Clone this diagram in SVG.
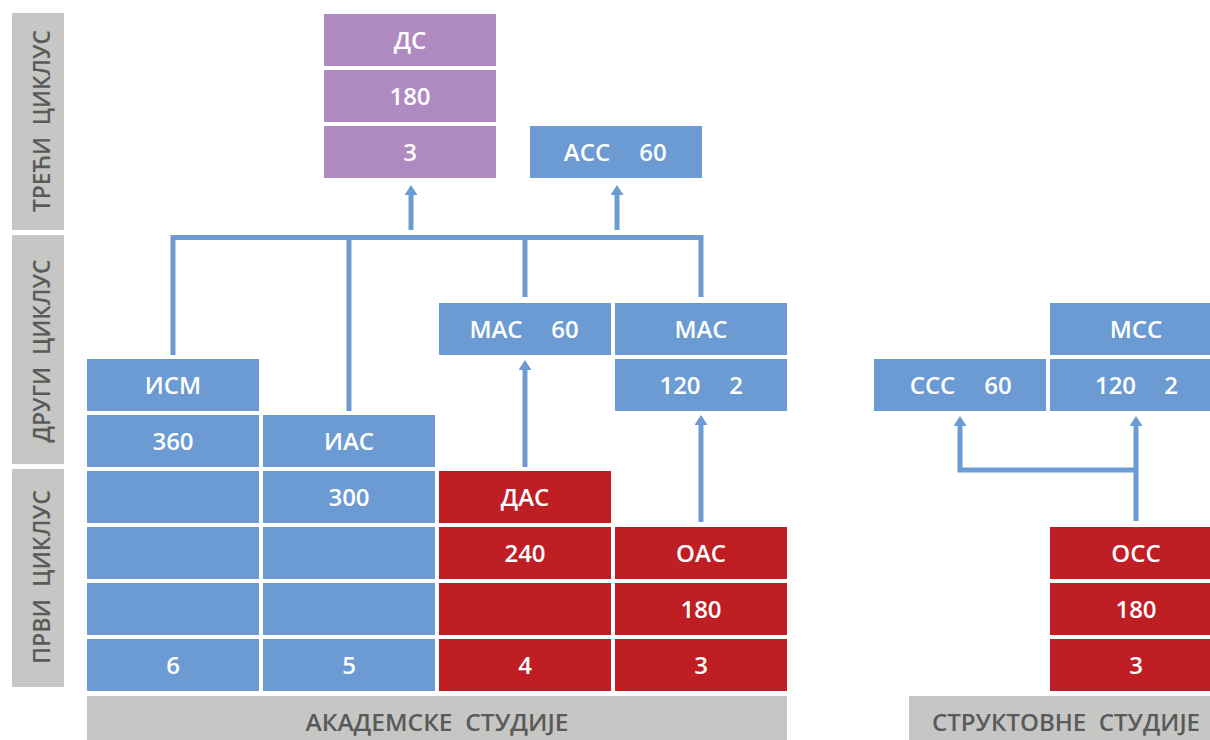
<svg xmlns="http://www.w3.org/2000/svg" width="1210" height="740" viewBox="0 0 1210 740">
<style>
.b{fill:#6b9bd2}
.r{fill:#be1e24}
.p{fill:#af8ac0}
.g{fill:#c6c6c5}
.t{font-family:"Open Sans","Noto Sans","DejaVu Sans",sans-serif;font-size:24px;font-weight:600;fill:#ffffff;text-anchor:middle}
.lbl{font-family:"Open Sans","Noto Sans","DejaVu Sans",sans-serif;font-size:24px;font-weight:600;fill:#5a5a5a;text-anchor:middle}
.c{fill:none;stroke:#6b9bd2;stroke-width:5}
</style>
<defs>
<marker id="ah" markerUnits="userSpaceOnUse" markerWidth="10" markerHeight="13" viewBox="0 0 10 13" refX="0" refY="6.5" orient="auto">
<path d="M0,0 L10,6.5 L0,13 z" fill="#6b9bd2"/>
</marker>
</defs>
<rect width="1210" height="740" fill="#ffffff"/>

<g id="cycle3"><rect class="g" x="12" y="13" width="52" height="217"/><text class="lbl" transform="translate(50,121) rotate(-90)" textLength="182" lengthAdjust="spacingAndGlyphs" xml:space="preserve">ТРЕЋИ  ЦИКЛУС</text></g>
<g id="cycle2"><rect class="g" x="12" y="235" width="52" height="229"/><text class="lbl" transform="translate(50,351) rotate(-90)" textLength="183" lengthAdjust="spacingAndGlyphs" xml:space="preserve">ДРУГИ  ЦИКЛУС</text></g>
<g id="cycle1"><rect class="g" x="12" y="469" width="52" height="218"/><text class="lbl" transform="translate(50,577) rotate(-90)" textLength="174" lengthAdjust="spacingAndGlyphs" xml:space="preserve">ПРВИ  ЦИКЛУС</text></g>

<g id="academic"><rect class="g" x="87" y="696" width="700" height="50"/><text class="lbl" x="437" y="731" textLength="263" lengthAdjust="spacingAndGlyphs" xml:space="preserve">АКАДЕМСКЕ  СТУДИЈЕ</text></g>
<g id="structural"><rect class="g" x="909" y="696" width="301" height="50"/><text class="lbl" x="1066" y="731" textLength="268" lengthAdjust="spacingAndGlyphs" xml:space="preserve">СТРУКТОВНЕ  СТУДИЈЕ</text></g>

<g id="ds">
<rect class="p" x="324" y="14" width="172" height="52"/><text class="t" x="410" y="48.5">ДС</text>
<rect class="p" x="324" y="70" width="172" height="52"/><text class="t" x="410" y="104.5">180</text>
<rect class="p" x="324" y="126" width="172" height="52"/><text class="t" x="410" y="160.5">3</text>
</g>
<g id="acc"><rect class="b" x="530" y="126" width="172" height="52"/><text class="t" x="587" y="160.5">АСС</text><text class="t" x="653" y="160.5">60</text></g>

<g id="ism">
<rect class="b" x="87" y="359" width="172" height="52"/><text class="t" x="173" y="393.5">ИСМ</text>
<rect class="b" x="87" y="415" width="172" height="52"/><text class="t" x="173" y="449.5">360</text>
<rect class="b" x="87" y="471" width="172" height="52"/>
<rect class="b" x="87" y="527" width="172" height="52"/>
<rect class="b" x="87" y="583" width="172" height="52"/>
<rect class="b" x="87" y="639" width="172" height="52"/><text class="t" x="173" y="673.5">6</text>
</g>
<g id="ias">
<rect class="b" x="263" y="415" width="172" height="52"/><text class="t" x="349" y="449.5">ИАС</text>
<rect class="b" x="263" y="471" width="172" height="52"/><text class="t" x="349" y="505.5">300</text>
<rect class="b" x="263" y="527" width="172" height="52"/>
<rect class="b" x="263" y="583" width="172" height="52"/>
<rect class="b" x="263" y="639" width="172" height="52"/><text class="t" x="349" y="673.5">5</text>
</g>
<g id="das">
<rect class="r" x="439" y="471" width="172" height="52"/><text class="t" x="525" y="505.5">ДАС</text>
<rect class="r" x="439" y="527" width="172" height="52"/><text class="t" x="525" y="561.5">240</text>
<rect class="r" x="439" y="583" width="172" height="52"/>
<rect class="r" x="439" y="639" width="172" height="52"/><text class="t" x="525" y="673.5">4</text>
</g>
<g id="oas">
<rect class="r" x="615" y="527" width="172" height="52"/><text class="t" x="701" y="561.5">ОАС</text>
<rect class="r" x="615" y="583" width="172" height="52"/><text class="t" x="701" y="617.5">180</text>
<rect class="r" x="615" y="639" width="172" height="52"/><text class="t" x="701" y="673.5">3</text>
</g>
<g id="mas60"><rect class="b" x="439" y="303" width="172" height="52"/><text class="t" x="496" y="337.5">МАС</text><text class="t" x="565" y="337.5">60</text></g>
<g id="mas120">
<rect class="b" x="615" y="303" width="172" height="52"/><text class="t" x="701" y="337.5">МАС</text>
<rect class="b" x="615" y="359" width="172" height="52"/><text class="t" x="680" y="393.5">120</text><text class="t" x="736" y="393.5">2</text>
</g>
<g id="ccc"><rect class="b" x="874" y="359" width="172" height="52"/><text class="t" x="932.5" y="393.5">ССС</text><text class="t" x="998" y="393.5">60</text></g>
<g id="mcc">
<rect class="b" x="1050" y="303" width="172" height="52"/><text class="t" x="1136" y="337.5">МСС</text>
<rect class="b" x="1050" y="359" width="172" height="52"/><text class="t" x="1115.5" y="393.5">120</text><text class="t" x="1171" y="393.5">2</text>
</g>
<g id="occ">
<rect class="r" x="1050" y="527" width="172" height="52"/><text class="t" x="1136" y="561.5">ОСС</text>
<rect class="r" x="1050" y="583" width="172" height="52"/><text class="t" x="1136" y="617.5">180</text>
<rect class="r" x="1050" y="639" width="172" height="52"/><text class="t" x="1136" y="673.5">3</text>
</g>

<g id="connectors">
<path class="c" d="M173,355 V237.5 H701 V297"/>
<path class="c" d="M349,237.5 V411"/>
<path class="c" d="M525,237.5 V297"/>
<path class="c" d="M411,230 V195" marker-end="url(#ah)"/>
<path class="c" d="M617,230 V195" marker-end="url(#ah)"/>
<path class="c" d="M525,467 V370" marker-end="url(#ah)"/>
<path class="c" d="M701,522 V425" marker-end="url(#ah)"/>
<path class="c" d="M1136,521 V426" marker-end="url(#ah)"/>
<path class="c" d="M1136,470 H960 V426" marker-end="url(#ah)"/>
</g>
</svg>
